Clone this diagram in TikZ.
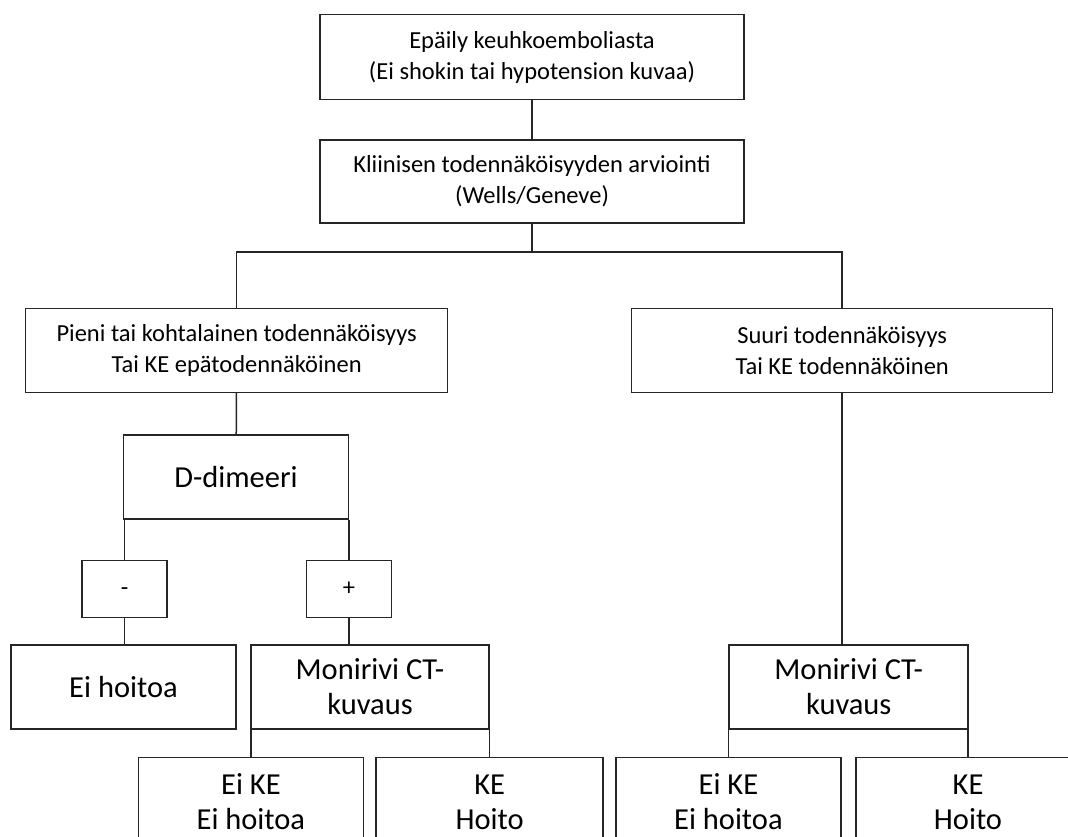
\documentclass[tikz,border=0pt]{standalone}
\usepackage{fontspec}
\setmainfont{Carlito}
\begin{document}
\begin{tikzpicture}[x=1pt,y=-1pt,
		laatikko/.style={draw=black!85, line width=1.5pt, align=center, inner sep=0pt},
		pieniteksti/.style={laatikko, font=\fontsize{24.5}{31}\selectfont},
		isoteksti/.style={laatikko, font=\fontsize{30.5}{35}\selectfont},
		viiva/.style={draw=black!85, line width=1.5pt}]
		\useasboundingbox (0,0) rectangle (1068,836);
		\clip (0,0) rectangle (1068,836);
		\node[pieniteksti, minimum width=424pt, minimum height=85pt] (epaily) at (532,57) {Epäily keuhkoemboliasta\\(Ei shokin tai hypotension kuvaa)};
		\node[pieniteksti, minimum width=424pt, minimum height=83pt] (arvio) at (532,181.5) {Kliinisen todennäköisyyden arviointi\\(Wells/Geneve)};
		\coordinate (haara) at (532,252);
		\node[pieniteksti, minimum width=422pt, minimum height=84pt] (pieni) at (236.7,350.3) {Pieni tai kohtalainen todennäköisyys\\Tai KE epätodennäköinen};
		\node[pieniteksti, minimum width=421pt, minimum height=84pt] (suuri) at (842.2,350.3) {Suuri todennäköisyys\\Tai KE todennäköinen};
		\node[isoteksti, minimum width=225pt, minimum height=84pt] (ddimeeri) at (236,477) {D-dimeeri};
		\node[pieniteksti, minimum width=85pt, minimum height=57pt] (neg) at (124.5,589) {\vphantom{+}-};
		\node[pieniteksti, minimum width=85pt, minimum height=57pt] (pos) at (349,589) {+};
		\node[isoteksti, minimum width=225pt, minimum height=84pt] (eihoitoa) at (123.5,687) {Ei hoitoa};
		\node[isoteksti, minimum width=238pt, minimum height=84pt] (ctvas) at (370,687) {Monirivi CT-\\kuvaus};
		\node[isoteksti, minimum width=239pt, minimum height=84pt] (ctoik) at (848.7,687) {Monirivi CT-\\kuvaus};
		\node[isoteksti, minimum width=225pt, minimum height=94pt] (eikevas) at (250.9,804.5) {Ei KE\strut\\Ei hoitoa\strut};
		\node[isoteksti, minimum width=227pt, minimum height=94pt] (kevas) at (489.7,804.5) {KE\strut\\Hoito\strut};
		\node[isoteksti, minimum width=225pt, minimum height=94pt] (eikeoik) at (728.4,804.5) {Ei KE\strut\\Ei hoitoa\strut};
		\node[isoteksti, minimum width=224pt, minimum height=94pt] (keoik) at (968,804.5) {KE\strut\\Hoito\strut};
		\draw[viiva] (epaily) -- (arvio);
		\draw[viiva] (arvio) -- (haara);
		\draw[viiva] (pieni.north) |- (haara) -| (suuri.north);
		\draw[viiva] (pieni) -- (ddimeeri);
		\draw[viiva] (neg.north) -- (neg.north |- ddimeeri.south);
		\draw[viiva] (pos.north) -- (pos.north |- ddimeeri.south);
		\draw[viiva] (neg.south) -- (neg.south |- eihoitoa.north);
		\draw[viiva] (pos.south) -- (pos.south |- ctvas.north);
		\draw[viiva] (eikevas.north) -- (eikevas.north |- ctvas.south);
		\draw[viiva] (kevas.north) -- (kevas.north |- ctvas.south);
		\draw[viiva] (suuri.south) -- (suuri.south |- ctoik.north);
		\draw[viiva] (eikeoik.north) -- (eikeoik.north |- ctoik.south);
		\draw[viiva] (keoik.north) -- (keoik.north |- ctoik.south);
	\end{tikzpicture}
\end{document}
